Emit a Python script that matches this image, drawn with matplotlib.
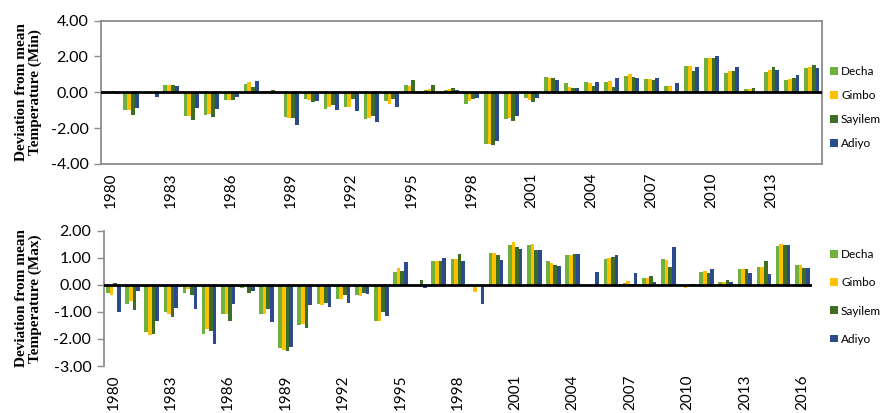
import matplotlib
matplotlib.use('Agg')
import matplotlib.pyplot as plt
import numpy as np
from matplotlib.patches import Patch

# station series
stations = ['Decha', 'Gimbo', 'Sayilem', 'Adiyo']
colors = ['#70b03c', '#ffc000', '#3e6e23', '#2b4b8c']

# minimum temperature anomalies 1980-2015
years_min = list(range(1980, 2016))
decha_min = [-0.05, -0.96, 0.0, 0.39, -1.33, -1.24, -0.44, 0.46, 0.07, -1.37,
             -0.37, -0.93, -0.83, -1.48, -0.50, 0.43, 0.11, 0.11, -0.65, -2.90,
             -1.48, -0.31, 0.85, 0.52, 0.59, 0.59, 0.93, 0.74, 0.37, 1.46,
             1.94, 1.10, 0.17, 1.15, 0.67, 1.35]
gimbo_min = [0.03, -0.96, 0.0, 0.43, -1.33, -1.20, -0.41, 0.57, 0.05, -1.41,
             -0.41, -0.81, -0.81, -1.46, -0.63, 0.37, 0.19, 0.19, -0.50, -2.90,
             -1.43, -0.41, 0.80, 0.30, 0.52, 0.63, 1.02, 0.74, 0.33, 1.46,
             1.94, 1.18, 0.17, 1.22, 0.74, 1.39]
sayilem_min = [0.05, -1.24, 0.0, 0.43, -1.57, -1.37, -0.44, 0.30, 0.13, -1.44,
               -0.56, -0.69, -0.37, -1.33, -0.35, 0.70, 0.39, 0.24, -0.37, -2.96,
               -1.61, -0.54, 0.80, 0.22, 0.37, 0.30, 0.85, 0.67, 0.0, 1.18,
               1.94, 1.20, 0.22, 1.39, 0.81, 1.52]
adiyo_min = [-0.10, -0.87, -0.26, 0.37, -0.87, -0.93, -0.28, 0.63, 0.0, -1.80,
             -0.50, -0.96, -1.06, -1.65, -0.81, 0.0, 0.0, 0.15, -0.31, -2.72,
             -1.33, -0.31, 0.70, 0.22, 0.59, 0.78, 0.81, 0.81, 0.50, 1.41,
             2.05, 1.39, 0.0, 1.26, 0.96, 1.35]

# maximum temperature anomalies 1980-2016
years_max = list(range(1980, 2017))
decha_max = [-0.30, -0.72, -1.75, -1.00, -0.30, -1.81, -1.08, -0.12, -1.06, -2.35,
             -1.47, -0.72, -0.54, -0.36, -1.33, 0.48, 0.0, 0.89, 0.96, 0.0,
             1.16, 1.48, 1.48, 0.88, 1.11, 0.01, 0.94, 0.06, 0.24, 0.94,
             0.0, 0.46, 0.10, 0.60, 0.66, 1.45, 0.75]
gimbo_max = [-0.39, -0.58, -1.87, -1.08, -0.14, -1.63, -1.08, 0.0, -1.08, -2.41,
             -1.45, -0.75, -0.51, -0.42, -1.33, 0.63, 0.0, 0.87, 0.96, -0.27,
             1.16, 1.57, 1.51, 0.81, 1.11, 0.0, 1.00, 0.14, 0.24, 0.90,
             -0.10, 0.51, 0.12, 0.60, 0.66, 1.52, 0.72]
sayilem_max = [0.08, -0.94, -1.81, -1.20, -0.36, -1.69, -1.35, -0.30, -0.90, -2.45,
               -1.59, -0.66, -0.36, -0.30, -1.02, 0.51, 0.16, 0.87, 1.13, 0.0,
               1.12, 1.39, 1.27, 0.75, 1.14, -0.06, 1.02, 0.04, 0.31, 0.66,
               0.01, 0.42, 0.16, 0.60, 0.87, 1.47, 0.64]
adiyo_max = [-1.02, -0.22, -1.33, -0.84, -0.90, -2.20, -0.70, -0.22, -1.39, -2.29,
             -0.76, -0.81, -0.66, -0.34, -1.14, 0.84, -0.12, 1.00, 0.87, -0.70,
             0.90, 1.33, 1.28, 0.71, 1.14, 0.46, 1.12, 0.42, 0.10, 1.39,
             0.04, 0.57, 0.10, 0.42, 0.40, 1.47, 0.64]

tick_font = 'Lato'
label_font = 'Liberation Serif'
frame_col = '#8c8c8c'

fig = plt.figure(figsize=(8.8, 4.13), dpi=100)
ax1 = fig.add_axes([0.1148, 0.603, 0.819, 0.347])
ax2 = fig.add_axes([0.118, 0.1138, 0.8045, 0.3276])


def draw_panel(ax, years, series, ylim, yticks, ylabel, full_frame):
    x = np.arange(len(years))
    w = 0.19
    for i, vals in enumerate(series):
        ax.bar(x + (i - 1.5) * w, vals, w, color=colors[i], linewidth=0, zorder=2)
    ax.axhline(0, color='black', lw=2, zorder=3)
    ax.set_xlim(-0.5, len(years) - 0.5)
    ax.set_ylim(*ylim)
    ax.set_yticks(yticks)
    ax.set_yticklabels(['%.2f' % v for v in yticks], fontfamily=tick_font, fontsize=11.5)
    ax.set_xticks(x[::3])
    ax.set_xticklabels([str(y) for y in years[::3]], rotation=90,
                       fontfamily=tick_font, fontsize=11)
    ax.tick_params(axis='x', length=0, pad=6)
    ax.tick_params(axis='y', length=5, width=1, color=frame_col, pad=4, direction='out')
    for name, sp in ax.spines.items():
        sp.set_color(frame_col)
        sp.set_linewidth(1.3)
        if not full_frame and name != 'left':
            sp.set_visible(False)
    ax.set_ylabel(ylabel, fontfamily=label_font, fontweight='bold', fontsize=11,
                  linespacing=1.0)


draw_panel(ax1, years_min, [decha_min, gimbo_min, sayilem_min, adiyo_min],
           (-4, 4), [-4, -2, 0, 2, 4],
           'Deviation from mean\nTemperature (Min)', True)
ax1.yaxis.set_label_coords(-0.082, 0.5)

draw_panel(ax2, years_max, [decha_max, gimbo_max, sayilem_max, adiyo_max],
           (-3, 2), [-3, -2, -1, 0, 1, 2],
           'Deviation from mean\nTemperature (Max)', False)
ax2.yaxis.set_label_coords(-0.088, 0.5)

handles = [Patch(facecolor=c, edgecolor='none', label=s) for c, s in zip(colors, stations)]
leg_kw = dict(frameon=False, loc='center left', handlelength=0.65, handleheight=0.65,
              handletextpad=0.3, borderpad=0, borderaxespad=0,
              prop={'family': tick_font, 'size': 8.5})
fig.legend(handles=handles, bbox_to_anchor=(0.943, 0.74), labelspacing=1.1, **leg_kw)
fig.legend(handles=handles, bbox_to_anchor=(0.943, 0.281), labelspacing=1.45, **leg_kw)

fig.savefig('out.png', dpi=100)
